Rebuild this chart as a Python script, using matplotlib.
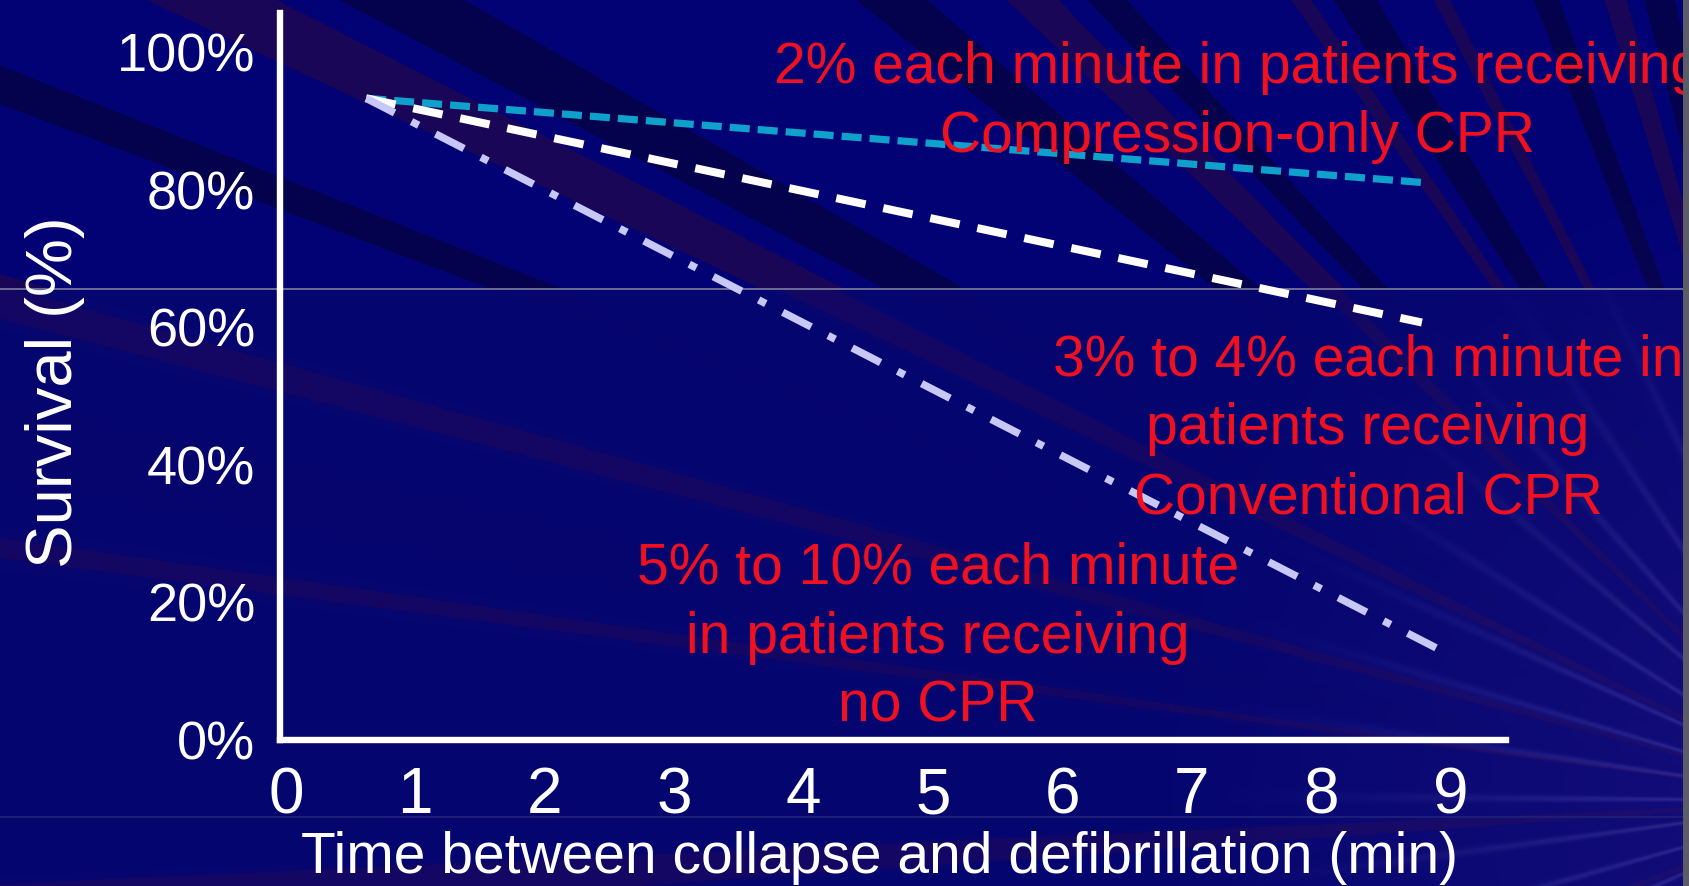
import numpy as np
import matplotlib
matplotlib.use("Agg")
import matplotlib.pyplot as plt
from matplotlib.transforms import Bbox, TransformedBbox

# ---------------- data ----------------
compression_x = [0.62, 8.82]
compression_y = [93.3, 81.0]
conventional_x = [0.62, 8.78]
conventional_y = [93.3, 60.7]
no_cpr_x = [0.62, 8.92]
no_cpr_y = [93.3, 13.1]

x_ticks = [0, 1, 2, 3, 4, 5, 6, 7, 8, 9]
y_ticks = [0, 20, 40, 60, 80, 100]
y_tick_labels = ["0%", "20%", "40%", "60%", "80%", "100%"]

x_label = "Time between collapse and defibrillation (min)"
y_label = "Survival (%)"

note_compression = ["2% each minute in patients receiving", "Compression-only CPR"]
note_conventional = ["3% to 4% each minute in", "patients receiving", "Conventional CPR"]
note_no_cpr = ["5% to 10% each minute", "in patients receiving", "no CPR"]

# ---------------- figure ----------------
W, H = 1690, 886
plt.rcParams["font.family"] = ["Liberation Sans", "DejaVu Sans"]
plt.rcParams["lines.scale_dashes"] = False
fig = plt.figure(figsize=(W / 100, H / 100), dpi=100)


def fx(x):
    return x / W


def fy(y):
    return 1 - y / H


# background: radiating bands (decorative)
yy, xx = np.mgrid[0:H, 0:W].astype(float)
Fx, Fy = 1850.0, 800.0
phi = np.arctan2(Fy - yy, Fx - xx)
r = np.hypot(Fx - xx, Fy - yy)
s = np.sin(38 * phi + 0.5) + 0.7 * np.sin(61 * phi + 2.1) + 0.5 * np.sin(97 * phi + 4.0)

base = np.array([2, 2, 116], float)
dark = np.array([4, 2, 76], float)
purple = np.array([26, 6, 86], float)
lav = np.array([130, 125, 220], float)

img = np.ones((H, W, 3)) * base
img[s > 0.85] = dark
img[s < -1.15] = purple
# lower part: softer, mostly plain navy
lower = yy > 289
soft = np.ones((H, W, 3)) * np.array([6, 6, 112], float)
soft_mix = np.where((s < -1.55)[..., None], np.array([20, 8, 100], float), soft)
img = np.where(lower[..., None], 0.93 * soft_mix + 0.07 * img, img)
# soft light rays towards lower right
g = np.clip(np.sin(45 * phi + 1.3), 0, 1) ** 8 * np.clip((1 - r / 650.0), 0, 1) ** 1.5
g = (g * (yy > 289))[..., None] * 0.45
img = img * (1 - g) + lav * g
tint = (np.clip(1 - r / 700.0, 0, 1) * 0.35)[..., None]
img = img * (1 - tint) + np.array([50, 30, 140], float) * tint
# faint horizontal seams and right border
img[288:290, :] = [105, 105, 150]
img[816:818, :] = [30, 30, 120]
img[:, 1683:] = [92, 92, 104]

bg = fig.add_axes([0, 0, 1, 1], zorder=-10)
bg.imshow(np.clip(img, 0, 255).astype(np.uint8), aspect="auto", extent=(0, 1, 0, 1),
          interpolation="bilinear")
bg.axis("off")

# ---------------- main axes ----------------
ax = fig.add_axes([fx(280), fy(740), (1506 - 280) / W, (740 - 13) / H])
ax.set_facecolor("none")
ax.set_xlim(-0.046, 9.43)
ax.set_ylim(0, 105.7)

ax.plot(compression_x, compression_y, color="#10a0cc", lw=5.2,
        linestyle=(0, (14.4, 5.8)), dash_capstyle="butt")
ax.plot(conventional_x, conventional_y, color="white", lw=5.8,
        linestyle=(0, (21.6, 13.0)), dash_capstyle="butt")
ax.plot(no_cpr_x, no_cpr_y, color="#c8c8f6", lw=5.4,
        linestyle=(0, (23.0, 13.7, 5.8, 13.7)), dash_capstyle="butt")

for sp in ["top", "right"]:
    ax.spines[sp].set_visible(False)
for sp in ["left", "bottom"]:
    ax.spines[sp].set_color("white")
    ax.spines[sp].set_linewidth(4.6)
    ax.spines[sp].set_capstyle("projecting")

ax.set_xticks(x_ticks)
ax.set_xticklabels([str(v) for v in x_ticks])
ax.set_yticks(y_ticks)
ax.set_yticklabels(y_tick_labels)
ax.tick_params(length=0, colors="white")
ax.tick_params(axis="x", labelsize=46, pad=19)
ax.tick_params(axis="y", labelsize=39, pad=18)

ax.set_xlabel(x_label, fontsize=41, color="white")
ax.xaxis.label.set_va("baseline")
ax.xaxis.set_label_coords((880 - 280) / 1226, (740 - 873) / 727)

ax.set_ylabel(y_label, fontsize=47, color="white")
ax.yaxis.label.set_rotation_mode("default")
ax.yaxis.label.set_va("center")
ax.yaxis.label.set_ha("center")
ax.yaxis.set_label_coords((55 - 280) / 1226, (740 - 392) / 727)

# ---------------- annotations ----------------
clip = TransformedBbox(Bbox([[0, 0], [1683 / W, 1]]), fig.transFigure)
red = "#f01020"


def note(lines, cx, baselines):
    for t, b in zip(lines, baselines):
        txt = fig.text(fx(cx), fy(b), t, color=red, fontsize=41, ha="center", va="baseline")
        txt.set_clip_box(clip)
        txt.set_clip_on(True)


note(note_compression, 1238, [83, 152])
note(note_conventional, 1368, [375, 444, 513])
note(note_no_cpr, 938, [584, 653, 722])

fig.savefig("out.png", dpi=100)
